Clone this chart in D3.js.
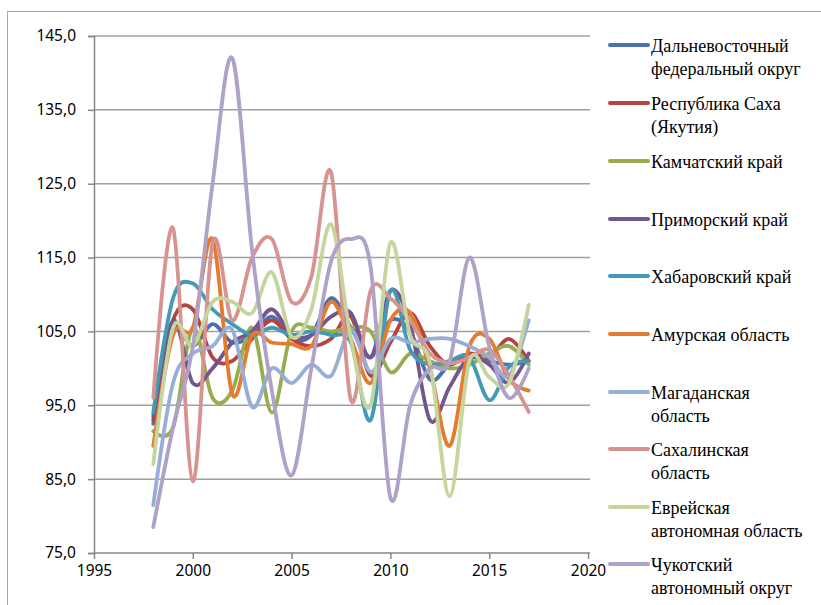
<!DOCTYPE html>
<html lang="ru">
<head>
<meta charset="UTF-8">
<title>Индексы по субъектам ДФО</title>
<script src="https://cdn.jsdelivr.net/npm/d3@7"></script>
<style>
  body { margin: 0; background: #fff; }
  .tick text { font-family: "Noto Sans", "Open Sans", sans-serif; font-size: 15.5px; fill: #000; }
  .leg { font-family: "Times New Roman", Tinos, "Liberation Serif", "DejaVu Serif", "Noto Serif", serif; font-size: 18px; fill: #000; }
</style>
</head>
<body>
<script>
// years on the x axis
var years = [1998, 1999, 2000, 2001, 2002, 2003, 2004, 2005, 2006, 2007,
             2008, 2009, 2010, 2011, 2012, 2013, 2014, 2015, 2016, 2017];

// series values
var dfo        = [92.5, 105, 103, 106, 103.5, 104.5, 107, 104, 104.5, 109.5, 105.5, 101.5, 106.5, 105, 98.5, 100.5, 101.5, 101, 100.5, 101];
var sakha      = [93, 106.5, 108, 101.5, 101, 104, 106.5, 104, 103, 104, 107, 99, 103.5, 107.5, 103, 100.5, 102, 101.5, 104, 101];
var kamchatka  = [91.5, 92, 105.5, 96, 97, 105.5, 94, 105, 105.5, 105, 105.5, 105, 99.5, 102, 101, 100, 100.5, 102, 103, 100.5];
var primorye   = [93.5, 106.5, 98, 100, 103.5, 105, 108, 104.5, 104.5, 107, 107.5, 101.5, 110.5, 106, 93, 97.5, 101.5, 100.5, 98, 102];
var khabarovsk = [94, 109.5, 111.5, 108, 106, 104.5, 105.5, 104.5, 105, 104.5, 103.5, 93, 110.5, 102.5, 100.5, 101, 101.5, 95.7, 100.2, 101];
var amur       = [89.5, 104.5, 105.5, 117.5, 96.5, 104.5, 103.5, 103.3, 103, 109, 104, 98, 106.5, 107.5, 100, 89.5, 103, 104, 98.5, 97];
var magadan    = [81.5, 98, 102, 103, 105.2, 94.8, 100, 98, 100.5, 99, 105.2, 99.5, 104, 103.5, 104, 104, 103, 101.5, 99, 106.5];
var sakhalin   = [96, 119, 84.7, 117, 106.5, 115, 117.5, 109, 112.4, 126.5, 95.7, 110.5, 109.5, 106.5, 102, 100.7, 101.5, 102.5, 99, 94.1];
var evrei      = [87, 105.5, 103, 109, 109, 107.5, 113, 104.3, 108, 119.5, 104, 95, 117, 104.5, 100.7, 82.7, 101, 98.8, 98, 108.6];
var chukotka   = [78.5, 92, 103, 125, 142, 116, 97, 85.5, 100, 114.5, 117.5, 113.7, 82.5, 95, 100, 101, 115, 103, 96, 100];

var seriesNames = [
  ["Дальневосточный", "федеральный округ"],
  ["Республика Саха", "(Якутия)"],
  ["Камчатский край"],
  ["Приморский край"],
  ["Хабаровский край"],
  ["Амурская область"],
  ["Магаданская", "область"],
  ["Сахалинская", "область"],
  ["Еврейская", "автономная область"],
  ["Чукотский", "автономный округ"]
];
var seriesValues = [dfo, sakha, kamchatka, primorye, khabarovsk, amur, magadan, sakhalin, evrei, chukotka];
var colors = ["#4A72AD", "#B5433F", "#97AD4F", "#74568F", "#4499B5",
              "#E57B30", "#96AED8", "#D69390", "#C4D59D", "#AFA1C7"];

var xTicks = [1995, 2000, 2005, 2010, 2015, 2020];
var yTicks = [75, 85, 95, 105, 115, 125, 135, 145];

var w = 821, h = 605;

var svg = d3.select("body").append("svg")
  .attr("width", w)
  .attr("height", h);

// chart frame
svg.append("rect")
  .attr("x", 7.5).attr("y", 11.5)
  .attr("width", w + 10).attr("height", h + 10)
  .attr("fill", "none")
  .attr("stroke", "#a6a6a6")
  .attr("stroke-width", 1);

var x = d3.scaleLinear().domain([1995, 2020]).range([94, 588]);
var y = d3.scaleLinear().domain([75, 145]).range([553, 36]);

var ru = d3.formatLocale({ decimal: ",", thousands: " ", grouping: [3], currency: ["", ""] });
var fmt = ru.format(".1f");

// gridlines
svg.append("g")
  .selectAll("line")
  .data(yTicks.slice(1))
  .enter().append("line")
  .attr("x1", x(1995)).attr("x2", x(2020) + 2)
  .attr("y1", function(d) { return y(d); })
  .attr("y2", function(d) { return y(d); })
  .attr("stroke", "#a0a0a0")
  .attr("stroke-width", 1.5);

// y axis
var yAxis = svg.append("g")
  .attr("transform", "translate(" + x(1995) + ",0)")
  .call(d3.axisLeft(y).tickValues(yTicks).tickFormat(fmt).tickSize(6).tickPadding(12));
yAxis.selectAll("path, line").attr("stroke", "#868686").attr("stroke-width", 1.5);

// x axis
var xAxis = svg.append("g")
  .attr("transform", "translate(0," + y(75) + ")")
  .call(d3.axisBottom(x).tickValues(xTicks).tickFormat(d3.format("d")).tickSize(6).tickPadding(6));
xAxis.selectAll("path, line").attr("stroke", "#868686").attr("stroke-width", 1.5);
xAxis.select(".domain").attr("d", "M" + x(1995) + ",0H" + (x(2020) + 2));

// smoothed lines
var line = d3.line()
  .x(function(d, i) { return x(years[i]); })
  .y(function(d) { return y(d); })
  .curve(d3.curveCardinal.tension(0));

svg.append("g")
  .selectAll("path")
  .data(seriesValues)
  .enter().append("path")
  .attr("d", line)
  .attr("fill", "none")
  .attr("stroke", function(d, i) { return colors[i]; })
  .attr("stroke-width", 3.8)
  .attr("stroke-linejoin", "round")
  .attr("stroke-linecap", "round");

// legend
var legendY = [45, 103, 161, 219, 276, 334, 392, 449, 507, 564];
var legend = svg.append("g")
  .selectAll("g")
  .data(seriesNames)
  .enter().append("g")
  .attr("transform", function(d, i) { return "translate(610," + legendY[i] + ")"; });

legend.append("line")
  .attr("x1", 0).attr("x2", 38)
  .attr("stroke", function(d, i) { return colors[i]; })
  .attr("stroke-width", 4)
  .attr("stroke-linecap", "round");

legend.append("text")
  .attr("class", "leg")
  .attr("x", 41)
  .attr("y", 7)
  .selectAll("tspan")
  .data(function(d) { return d; })
  .enter().append("tspan")
  .attr("x", 41)
  .attr("dy", function(d, i) { return i ? 23 : 0; })
  .text(function(d) { return d; });
</script>
</body>
</html>
